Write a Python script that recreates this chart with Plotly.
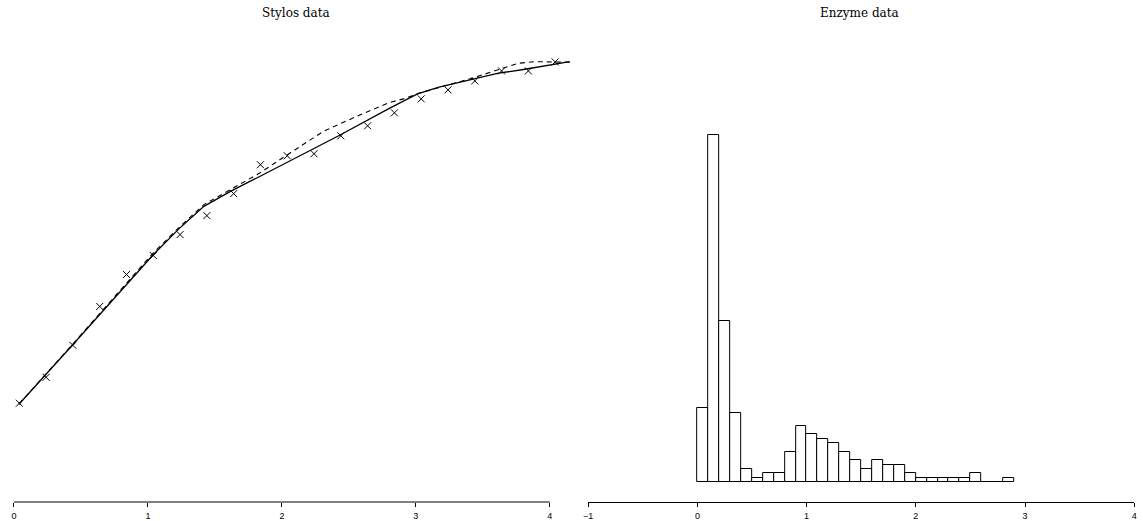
import plotly.graph_objects as go

# ---- Stylos data (left panel) ----
stylos_x = [0.04, 0.24, 0.44, 0.64, 0.84, 1.04, 1.24, 1.44, 1.64, 1.84, 2.04,
            2.24, 2.44, 2.64, 2.84, 3.04, 3.24, 3.44, 3.64, 3.84, 4.04]
stylos_y = [0.99, 1.25, 1.57, 1.96, 2.28, 2.47, 2.68, 2.87, 3.09, 3.38, 3.47,
            3.49, 3.67, 3.77, 3.90, 4.04, 4.13, 4.22, 4.32, 4.32, 4.41]

fit_solid_x = [0.037, 0.437, 1.036, 1.231, 1.418, 1.616, 1.838, 2.110, 2.431,
               2.802, 3.012, 3.173, 3.420, 3.617, 3.815, 4.038, 4.149]
fit_solid_y = [0.98, 1.573, 2.473, 2.737, 2.963, 3.113, 3.265, 3.455, 3.675,
               3.945, 4.09, 4.157, 4.237, 4.297, 4.337, 4.39, 4.413]

fit_dash_x = [0.037, 0.437, 1.036, 1.231, 1.418, 1.616, 1.838, 2.061, 2.308,
              2.555, 2.802, 2.926, 3.032, 3.420, 3.617, 3.766, 3.890, 4.038, 4.149]
fit_dash_y = [0.98, 1.58, 2.49, 2.75, 2.98, 3.135, 3.30, 3.497, 3.713,
              3.863, 4.003, 4.047, 4.10, 4.247, 4.33, 4.397, 4.413, 4.413, 4.407]

# ---- Enzyme data (right panel): histogram bin left edges and counts ----
enzyme_bin_left = [0.0, 0.1, 0.2, 0.3, 0.4, 0.5, 0.6, 0.7, 0.8, 0.9, 1.0, 1.1,
                   1.2, 1.3, 1.4, 1.5, 1.6, 1.7, 1.8, 1.9, 2.0, 2.1, 2.2, 2.3,
                   2.4, 2.5, 2.6, 2.7, 2.8]
enzyme_counts = [17, 80, 37, 16, 3, 1, 2, 2, 7, 13, 11, 10,
                 9, 7, 5, 3, 5, 4, 4, 2, 1, 1, 1, 1,
                 1, 2, 0, 0, 1]
bin_width = 0.1

left_ticks = [0, 1, 2, 3, 4]
right_ticks = [-1, 0, 1, 2, 3, 4]
right_tick_text = ["\u22121", "0", "1", "2", "3", "4"]

fig = go.Figure()

fig.add_trace(go.Scatter(x=fit_dash_x, y=fit_dash_y, mode="lines",
                         line=dict(color="black", width=1.1, dash="5px,4px"),
                         xaxis="x", yaxis="y", hoverinfo="skip"))
fig.add_trace(go.Scatter(x=fit_solid_x, y=fit_solid_y, mode="lines",
                         line=dict(color="black", width=1.3),
                         xaxis="x", yaxis="y", hoverinfo="skip"))
fig.add_trace(go.Scatter(x=stylos_x, y=stylos_y, mode="markers",
                         marker=dict(symbol="x-thin", size=7, color="black",
                                     line=dict(color="black", width=1)),
                         xaxis="x", yaxis="y"))

fig.add_trace(go.Bar(x=enzyme_bin_left, y=enzyme_counts, width=bin_width, offset=0,
                     marker=dict(color="white", line=dict(color="black", width=1)),
                     xaxis="x2", yaxis="y2"))

tickfont = dict(family="Liberation Sans, Arial, sans-serif", size=9, color="black")
title_font = dict(family="DejaVu Serif, serif", size=12, color="black")

fig.update_layout(
    width=1143, height=521,
    margin=dict(l=0, r=0, t=40, b=18),
    paper_bgcolor="white", plot_bgcolor="white",
    showlegend=False,
    bargap=0,
    xaxis=dict(domain=[0.0020, 0.5036], range=[-0.05, 4.2], tickvals=left_ticks,
               showgrid=False, zeroline=False, showline=False,
               ticks="outside", ticklen=4, tickwidth=1, tickcolor="black",
               tickfont=tickfont, ticklabelstandoff=1),
    yaxis=dict(range=[0, 4.63], visible=False, showgrid=False, zeroline=False),
    xaxis2=dict(domain=[0.5138, 0.9950], range=[-1, 4], tickvals=right_ticks,
                ticktext=right_tick_text,
                showgrid=False, zeroline=False, showline=True, linecolor="black",
                linewidth=1, ticks="outside", ticklen=4, tickwidth=1,
                tickcolor="black", tickfont=tickfont, ticklabelstandoff=1,
                anchor="y2"),
    yaxis2=dict(range=[-4.6, 101.84], visible=False, showgrid=False,
                zeroline=False, anchor="x2"),
    shapes=[dict(type="line", xref="x", yref="paper", x0=0, x1=4, y0=0, y1=0,
                 line=dict(color="black", width=1))],
    annotations=[
        dict(text="Stylos data", xref="paper", yref="paper", x=0.2563, y=1.058,
             xanchor="center", yanchor="middle", showarrow=False, font=title_font),
        dict(text="Enzyme data", xref="paper", yref="paper", x=0.7533, y=1.058,
             xanchor="center", yanchor="middle", showarrow=False, font=title_font),
    ],
)

fig.write_html("out.html", config={"displayModeBar": False},
               post_script="document.body.style.margin='0';document.body.style.padding='0';")
